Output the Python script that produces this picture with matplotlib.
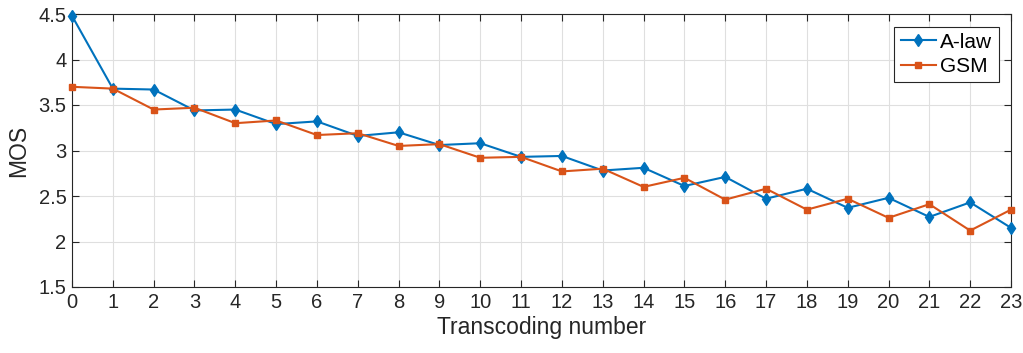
import numpy as np
import matplotlib
matplotlib.use("Agg")
import matplotlib.pyplot as plt

plt.rcParams["font.family"] = ["Liberation Sans", "DejaVu Sans"]

transcoding = np.arange(24)
alaw = [4.48, 3.68, 3.67, 3.44, 3.45, 3.29, 3.32, 3.16, 3.20, 3.06, 3.08, 2.93,
        2.94, 2.78, 2.81, 2.61, 2.71, 2.47, 2.58, 2.37, 2.48, 2.27, 2.43, 2.15]
gsm = [3.70, 3.68, 3.45, 3.47, 3.30, 3.33, 3.17, 3.19, 3.05, 3.07, 2.92, 2.93,
       2.77, 2.80, 2.60, 2.70, 2.46, 2.58, 2.35, 2.47, 2.26, 2.41, 2.12, 2.35]

W, H = 1023, 353
fig = plt.figure(figsize=(W / 100, H / 100), dpi=100)
ax = fig.add_axes([72 / W, 1 - 287 / H, (1011 - 72) / W, (287 - 14) / H])

ax.plot(transcoding, alaw, color="#0072BD", marker="d", markersize=6,
        linewidth=1.5, label="A-law", clip_on=False, zorder=3)
ax.plot(transcoding, gsm, color="#D95319", marker="s", markersize=5,
        linewidth=1.5, label="GSM", clip_on=False, zorder=3)

ax.set_xlim(0, 23)
ax.set_ylim(1.5, 4.5)
ax.set_xticks(transcoding)
ax.set_yticks([1.5, 2, 2.5, 3, 3.5, 4, 4.5])
ax.set_yticklabels(["1.5", "2", "2.5", "3", "3.5", "4", "4.5"])
ax.grid(True, color="#dfdfdf", linewidth=0.8)
ax.set_axisbelow(True)
for s in ax.spines.values():
    s.set_color("#262626")
    s.set_linewidth(0.8)
ax.tick_params(direction="in", top=True, right=True, length=5, width=0.8,
               colors="#262626", labelsize=14.5, pad=4)
ax.set_xlabel("Transcoding number", fontsize=16.5, color="#262626", labelpad=3)
ax.set_ylabel("MOS", fontsize=16.5, color="#262626", labelpad=6)

leg = ax.legend(loc="upper right", fontsize=15, fancybox=False,
                edgecolor="#262626", framealpha=1, borderaxespad=0.6,
                handlelength=1.7, handletextpad=0.2, borderpad=0.3,
                labelspacing=0.25)
leg.get_frame().set_linewidth(0.8)

fig.savefig("out.png", dpi=100)
